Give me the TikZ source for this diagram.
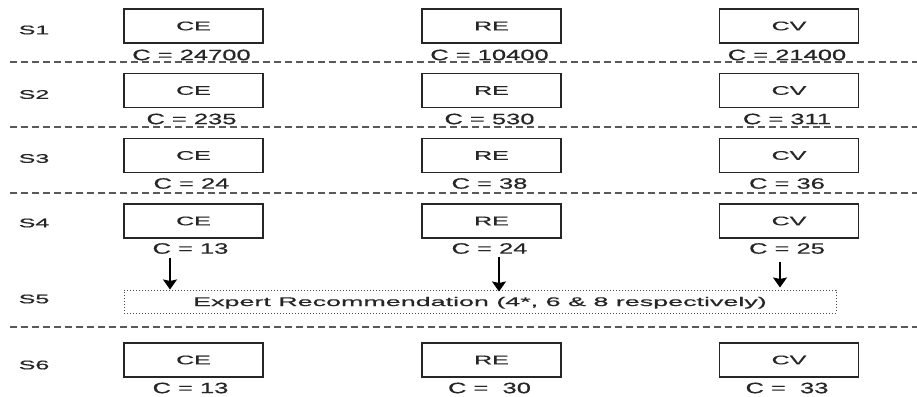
\documentclass[tikz,border=0pt]{standalone}
\usepackage{fontspec}
\setmainfont{Liberation Sans}
\newfontfamily\smallf[FakeStretch=2.0,FakeBold=0.6]{Liberation Sans}
\newfontfamily\labf[FakeStretch=1.7,FakeBold=0.6]{Liberation Sans}
\newfontfamily\expf[FakeStretch=2.15,FakeBold=0.6]{Liberation Sans}
\usetikzlibrary{arrows.meta}
\begin{document}
\begin{tikzpicture}[x=1pt,y=-1pt,
  stbox/.style={draw=black!85, line width=1.4pt, minimum width=139pt, minimum height=34pt,
    inner sep=0pt, font=\smallf\fontsize{12.5}{14}\selectfont, text=black!85},
  clab/.style={inner sep=0pt, font=\labf\fontsize{15}{17}\selectfont, text=black!85},
  slab/.style={inner sep=0pt, font=\smallf\fontsize{12.5}{14}\selectfont, text=black!85},
  sepline/.style={draw=black!65, line width=1.2pt, dash pattern=on 7pt off 4pt},
  dotbox/.style={draw=black!70, line width=1pt, dash pattern=on 1pt off 2pt,
    minimum width=712pt, minimum height=23pt, inner sep=0pt, text depth=0pt, text height=9pt,
    font=\expf\fontsize{12.5}{14}\selectfont, text=black!85},
  arr/.style={draw=black, line width=1.4pt, -{Stealth[length=10pt,width=14pt,inset=1.5pt]}}
]
\useasboundingbox (0,0) rectangle (917,396);
% separators
\coordinate (l1) at (10,62);   \coordinate (r1) at (917,62);
\coordinate (l2) at (10,127);  \coordinate (r2) at (917,127);
\coordinate (l3) at (10,193);  \coordinate (r3) at (917,193);
\coordinate (l4) at (10,327);  \coordinate (r4) at (917,327);
\draw[sepline] (l1) -- (r1);
\draw[sepline] (l2) -- (r2);
\draw[sepline] (l3) -- (r3);
\draw[sepline] (l4) -- (r4);
% S1
\node[slab] (s1) at (34,30) {S1};
\node[stbox] (ce1) at (193.5,26) {CE};
\node[stbox] (re1) at (491.5,26) {RE};
\node[stbox] (cv1) at (789,26) {CV};
\node[clab] (ce1l) at (191.5,55) {C = 24700};
\node[clab] (re1l) at (489.5,55) {C = 10400};
\node[clab] (cv1l) at (787,55) {C = 21400};
% S2
\node[slab] (s2) at (34,94.5) {S2};
\node[stbox] (ce2) at (193.5,90.5) {CE};
\node[stbox] (re2) at (491.5,90.5) {RE};
\node[stbox] (cv2) at (789,90.5) {CV};
\node[clab] (ce2l) at (191.5,119) {C = 235};
\node[clab] (re2l) at (489.5,119) {C = 530};
\node[clab] (cv2l) at (787,119) {C = 311};
% S3
\node[slab] (s3) at (34,158.5) {S3};
\node[stbox] (ce3) at (193.5,155.5) {CE};
\node[stbox] (re3) at (491.5,155.5) {RE};
\node[stbox] (cv3) at (789,155.5) {CV};
\node[clab] (ce3l) at (191.5,183.5) {C = 24};
\node[clab] (re3l) at (489.5,183.5) {C = 38};
\node[clab] (cv3l) at (787,183.5) {C = 36};
% S4
\node[slab] (s4) at (34,223) {S4};
\node[stbox] (ce4) at (193.5,221) {CE};
\node[stbox] (re4) at (491.5,221) {RE};
\node[stbox] (cv4) at (789,221) {CV};
\node[clab] (ce4l) at (190.5,248.5) {C = 13};
\node[clab] (re4l) at (489.5,248.5) {C = 24};
\node[clab] (cv4l) at (787,248.5) {C = 25};
% S5
\node[slab] (s5l) at (34,299) {S5};
\node[dotbox] (s5) at (480,301.5) {Expert Recommendation (4*, 6 \& 8 respectively)};
\coordinate (a1) at (170,258);
\coordinate (a2) at (499,257);
\coordinate (a3) at (780,262);
\draw[arr] (a1) -- (a1 |- s5.north);
\draw[arr] (a2) -- ([yshift=-2pt]a2 |- s5.north);
\draw[arr] (a3) -- ([yshift=2pt]a3 |- s5.north);
% S6
\node[slab] (s6) at (34,365) {S6};
\node[stbox] (ce6) at (193.5,360) {CE};
\node[stbox] (re6) at (491.5,360) {RE};
\node[stbox] (cv6) at (789,360) {CV};
\node[clab] (ce6l) at (190.5,388) {C = 13};
\node[clab] (re6l) at (489.5,388) {C =\ \ 30};
\node[clab] (cv6l) at (787,388) {C =\ \ 33};
\end{tikzpicture}
\end{document}
